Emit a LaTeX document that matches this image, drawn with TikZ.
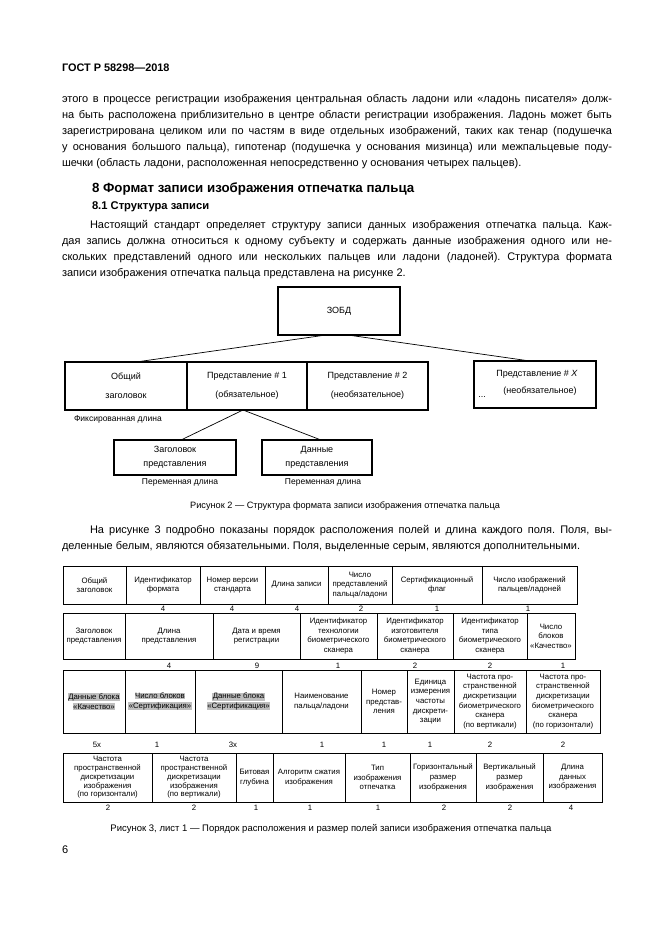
\documentclass[tikz,border=0pt]{standalone}
\usepackage{fontspec}
\setmainfont{Liberation Sans}
\usetikzlibrary{calc}
\frenchspacing
\newcommand\jl[2]{\makebox[#1pt][s]{#2}}
\newcommand\hlt[1]{{\setlength{\fboxsep}{0.4pt}\colorbox{black!25}{#1}}}
\newcommand\tcell[6]{\node[tcell, minimum width={#3-#2}, minimum height={#5-#4}] (#1) at ({(#2+#3)/2},{(#4+#5)/2}) {#6};}
\begin{document}
\begin{tikzpicture}[x=1pt,y=-1pt,
  every node/.style={inner sep=0pt, outer sep=0pt},
  body/.style={anchor=mid west, font=\fontsize{11}{16}\selectfont},
  fbox/.style={draw, line width=1.1pt, align=center, font=\fontsize{9}{19}\selectfont},
  flabel/.style={font=\fontsize{8.5}{10}\selectfont},
  tcell/.style={draw, line width=1pt, align=center, font=\fontsize{7.8}{9.6}\selectfont},
  tcellt/.style={tcell, font=\fontsize{7.8}{8.8}\selectfont},
  num/.style={anchor=mid, font=\fontsize{7.8}{9}\selectfont},
  capt/.style={anchor=mid, font=\fontsize{9.2}{11}\selectfont},
  link/.style={line width=0.7pt}
]
\useasboundingbox[fill=white] (0,0) rectangle (661,935);

% header
\node[anchor=mid west, font=\bfseries\fontsize{10.9}{13}\selectfont] (hdr) at (62,69) {ГОСТ Р 58298—2018};

% paragraph 1
\node[body] (p1a) at (62,100) {\jl{550}{этого в процессе регистрации изображения центральная область ладони или «ладонь писателя» долж-}};
\node[body] (p1b) at (62,116) {\jl{550}{на быть расположена приблизительно в центре области регистрации изображения. Ладонь может быть}};
\node[body] (p1c) at (62,132) {\jl{550}{зарегистрирована целиком или по частям в виде отдельных изображений, таких как тенар (подушечка}};
\node[body] (p1d) at (62,148) {\jl{550}{у основания большого пальца), гипотенар (подушечка у основания мизинца) или межпальцевые поду-}};
\node[body] (p1e) at (62,164) {шечки (область ладони, расположенная непосредственно у основания четырех пальцев).};

% headings
\node[anchor=mid west, font=\bfseries\fontsize{13.3}{15}\selectfont] (h8) at (92,190) {8 Формат записи изображения отпечатка пальца};
\node[anchor=mid west, font=\bfseries\fontsize{11.2}{13}\selectfont] (h81) at (92,207) {8.1 Структура записи};

% paragraph 2
\node[body] (p2a) at (90,226) {\jl{522}{Настоящий стандарт определяет структуру записи данных изображения отпечатка пальца. Каж-}};
\node[body] (p2b) at (62,242) {\jl{550}{дая запись должна относиться к одному субъекту и содержать данные изображения одного или не-}};
\node[body] (p2c) at (62,258) {\jl{550}{скольких представлений одного или нескольких пальцев или ладони (ладоней). Структура формата}};
\node[body] (p2d) at (62,274) {записи изображения отпечатка пальца представлена на рисунке 2.};

% figure 2
\node[fbox, minimum width=122, minimum height=48] (zobd) at (339,311) {ЗОБД};
\node[fbox, minimum width=122, minimum height=48] (gen) at (126,386) {Общий\\заголовок};
\node[fbox, minimum width=120, minimum height=48] (rep1) at (247,386) {Представление \# 1\\(обязательное)};
\node[fbox, minimum width=121, minimum height=48] (rep2) at (367.5,386) {Представление \# 2\\(необязательное)};
\node[fbox, minimum width=122, minimum height=47] (repx) at (535,384.5) {};
\node[anchor=mid, font=\fontsize{9}{11}\selectfont] (repxa) at (537,374) {Представление \# \textit{X}};
\node[anchor=mid, font=\fontsize{9}{11}\selectfont] (repxb) at (540,391) {(необязательное)};
\node[anchor=mid, font=\fontsize{9}{11}\selectfont] (dots) at (482,395) {...};
\node[flabel, anchor=mid west] (fixl) at (74,419) {Фиксированная длина};
\node[fbox, minimum width=122, minimum height=35] (sub1) at (175,457.5) {Заголовок\\[-5pt]представления};
\node[fbox, minimum width=110, minimum height=35] (sub2) at (317,457.5) {Данные\\[-5pt]представления};
\node[flabel, anchor=mid] (varl1) at (180,482) {Переменная длина};
\node[flabel, anchor=mid] (varl2) at (323,482) {Переменная длина};
\draw[link] ($(zobd.south)+(-13,0)$) -- ($(gen.north)+(10,0)$);
\draw[link] ($(zobd.south)+(9,0)$) -- ($(repx.north)+(-5,0)$);
\draw[link] ($(rep1.south)+(-4,0)$) -- ($(sub1.north)+(6,0)$);
\draw[link] ($(rep1.south)+(-4,0)$) -- ($(sub2.north)+(4,0)$);
\node[capt] (cap2) at (345,506) {Рисунок 2 — Структура формата записи изображения отпечатка пальца};

% paragraph 3
\node[body] (p3a) at (90,531) {\jl{522}{На рисунке 3 подробно показаны порядок расположения полей и длина каждого поля. Поля, вы-}};
\node[body] (p3b) at (62,547) {деленные белым, являются обязательными. Поля, выделенные серым, являются дополнительными.};

% figure 3, row 1
\tcell{c11}{63}{126}{566}{604}{Общий\\заголовок}
\tcell{c12}{126}{200}{566}{604}{Идентификатор\\формата}
\tcell{c13}{200}{265}{566}{604}{Номер версии\\стандарта}
\tcell{c14}{265}{328}{566}{604}{Длина записи}
\tcell{c15}{328}{392}{566}{604}{Число\\представлений\\пальца/ладони}
\tcell{c16}{392}{482}{566}{604}{Сертификационный\\флаг}
\tcell{c17}{482}{577}{566}{604}{Число изображений\\пальцев/ладоней}
\node[num] (n12) at (163,609) {4};
\node[num] (n13) at (232,609) {4};
\node[num] (n14) at (297,609) {4};
\node[num] (n15) at (361,609) {2};
\node[num] (n16) at (437,609) {1};
\node[num] (n17) at (528,609) {1};

% row 2
\tcell{c21}{63}{125}{613}{659}{Заголовок\\представления}
\tcell{c22}{125}{213}{613}{659}{Длина\\представления}
\tcell{c23}{213}{300}{613}{659}{Дата и время\\регистрации}
\tcell{c24}{300}{377}{613}{659}{Идентификатор\\технологии\\биометрического\\сканера}
\tcell{c25}{377}{453}{613}{659}{Идентификатор\\изготовителя\\биометрического\\сканера}
\tcell{c26}{453}{527}{613}{659}{Идентификатор\\типа\\биометрического\\сканера}
\tcell{c27}{527}{575}{613}{659}{Число\\блоков\\«Качество»}
\node[num] (n22) at (169,666) {4};
\node[num] (n23) at (257,666) {9};
\node[num] (n24) at (338,666) {1};
\node[num] (n25) at (415,666) {2};
\node[num] (n26) at (490,666) {2};
\node[num] (n27) at (563,666) {1};

% row 3
\tcell{c31}{63}{125}{670}{733}{\hlt{Данные блока}\\\hlt{«Качество»}}
\tcell{c32}{125}{195}{670}{733}{\hlt{Число блоков}\\\hlt{«Сертификация»}}
\tcell{c33}{195}{282}{670}{733}{\hlt{Данные блока}\\\hlt{«Сертификация»}}
\tcell{c34}{282}{361}{670}{733}{Наименование\\пальца/ладони}
\tcell{c35}{361}{407}{670}{733}{Номер\\представ-\\ления}
\tcell{c36}{407}{454}{670}{733}{Единица\\измерения\\частоты\\дискрети-\\зации}
\tcell{c37}{454}{526}{670}{733}{Частота про-\\странственной\\дискретизации\\биометрического\\сканера\\(по вертикали)}
\tcell{c38}{526}{600}{670}{733}{Частота про-\\странственной\\дискретизации\\биометрического\\сканера\\(по горизонтали)}
\node[num] (n31) at (97,745) {5x};
\node[num] (n32) at (157,745) {1};
\node[num] (n33) at (233,745) {3x};
\node[num] (n34) at (322,745) {1};
\node[num] (n35) at (384,745) {1};
\node[num] (n36) at (430,745) {1};
\node[num] (n37) at (490,745) {2};
\node[num] (n38) at (563,745) {2};

% row 4
\tcell{c43}{236}{273}{753}{802}{Битовая\\глубина}
\node[tcellt, minimum width=89, minimum height=49] (c41) at (107.5,777.5) {Частота\\пространственной\\дискретизации\\изображения\\(по горизонтали)};
\node[tcellt, minimum width=84, minimum height=49] (c42) at (194,777.5) {Частота\\пространственной\\дискретизации\\изображения\\(по вертикали)};
\tcell{c44}{273}{345}{753}{802}{Алгоритм сжатия\\изображения}
\tcell{c45}{345}{410}{753}{802}{Тип\\изображения\\отпечатка}
\tcell{c46}{410}{476}{753}{802}{Горизонтальный\\размер\\изображения}
\tcell{c47}{476}{543}{753}{802}{Вертикальный\\размер\\изображения}
\tcell{c48}{543}{602}{753}{802}{Длина\\данных\\изображения}
\node[num] (n41) at (108,808) {2};
\node[num] (n42) at (194,808) {2};
\node[num] (n43) at (256,808) {1};
\node[num] (n44) at (310,808) {1};
\node[num] (n45) at (378,808) {1};
\node[num] (n46) at (444,808) {2};
\node[num] (n47) at (510,808) {2};
\node[num] (n48) at (571,808) {4};

\node[capt, font=\fontsize{9.5}{11}\selectfont] (cap3) at (331,829) {Рисунок 3, лист 1 — Порядок расположения и размер полей записи изображения отпечатка пальца};
\node[anchor=mid west, font=\fontsize{11}{13}\selectfont] (pg) at (62,851) {6};
\end{tikzpicture}
\end{document}
